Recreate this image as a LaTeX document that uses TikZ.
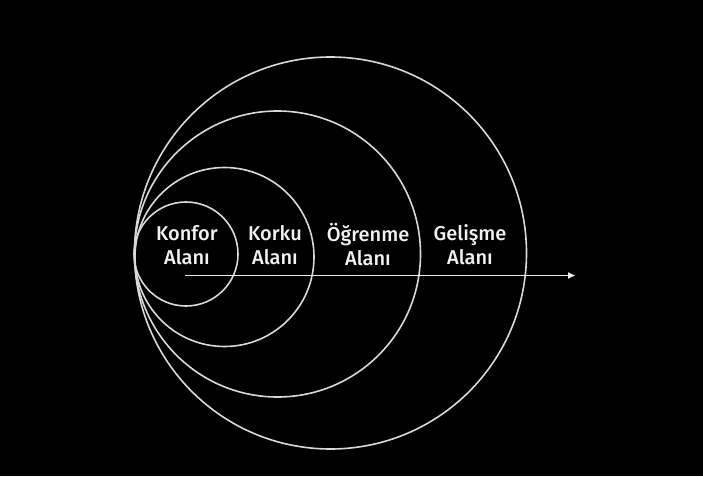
\documentclass[tikz,border=0pt]{standalone}
\usepackage{fontspec}
\setmainfont{Fira Sans}[UprightFont=* Medium]
\usetikzlibrary{arrows.meta}
\begin{document}
\begin{tikzpicture}[x=1pt,y=-1pt,
  ring/.style={draw=black!15, line width=1.6pt},
  zone/.style={text=black!5, align=center, font=\fontsize{20}{24}\selectfont, inner sep=0pt},
  axis/.style={draw=black!8, line width=1.6pt, -{Triangle[length=7pt,width=6pt]}}]
\fill[black] (0,0) rectangle (703,476);
\useasboundingbox (0,0) rectangle (703,476);
\draw[ring] (330.5,253) circle (196);
\draw[ring] (277.5,254) circle (143);
\draw[ring] (224.5,257) circle (89.5);
\draw[ring] (186,254) circle (52);
\coordinate (s) at (185,275.5);
\coordinate (e) at (575,275.5);
\draw[axis] (s) -- (e);
\node[zone] (konfor) at (187,245) {Konfor\\Alanı};
\node[zone] (korku) at (275,245) {Korku\\Alanı};
\node[zone] (ogrenme) at (368,245) {Öğrenme\\Alanı};
\node[zone] (gelisme) at (470,245) {Gelişme\\Alanı};
\end{tikzpicture}
\end{document}
